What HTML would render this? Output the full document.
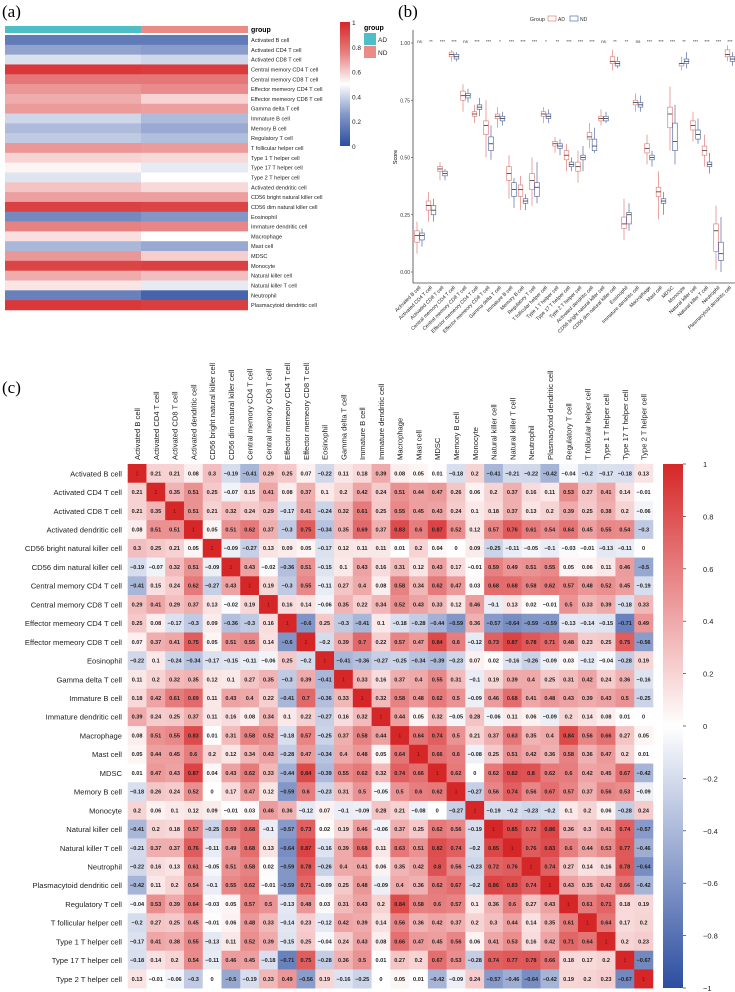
<!DOCTYPE html>
<html><head><meta charset="utf-8">
<style>
html,body{margin:0;padding:0;background:#fff;}
svg{display:block;font-family:"Liberation Sans",Arial,sans-serif;}
</style></head>
<body>
<svg id="fig" width="735" height="992" viewBox="0 0 735 992" xmlns="http://www.w3.org/2000/svg">
<text x="2" y="17" font-family="Liberation Serif,serif" font-size="17">(a)</text>
<text x="398" y="17" font-family="Liberation Serif,serif" font-size="17">(b)</text>
<text x="2" y="393" font-family="Liberation Serif,serif" font-size="17">(c)</text>
<g id="pa"></g>
<g id="pb"></g>
<g id="pc"></g>
</svg>
<script>
const cellsB = ["Activated B cell","Activated CD4 T cell","Activated CD8 T cell","Central memory CD4 T cell","Central memory CD8 T cell","Effector memeory CD4 T cell","Effector memeory CD8 T cell","Gamma delta T cell","Immature  B cell","Memory B cell","Regulatory T cell","T follicular helper cell","Type 1 T helper cell","Type 17 T helper cell","Type 2 T helper cell","Activated dendritic cell","CD56 bright natural killer cell","CD56 dim natural killer cell","Eosinophil","Immature dendritic cell","Macrophage","Mast cell","MDSC","Monocyte","Natural killer cell","Natural killer T cell","Neutrophil","Plasmacytoid dendritic cell"];
const adMed = [0.16,0.29,0.45,0.95,0.77,0.69,0.64,0.68,0.43,0.36,0.40,0.69,0.56,0.51,0.46,0.59,0.67,0.92,0.21,0.74,0.54,0.35,0.69,0.91,0.64,0.53,0.18,0.95];
const ndMed = [0.16,0.27,0.43,0.94,0.77,0.72,0.56,0.67,0.36,0.31,0.37,0.68,0.55,0.47,0.50,0.55,0.67,0.91,0.25,0.73,0.50,0.31,0.57,0.92,0.60,0.47,0.08,0.93];
const adQ1 = [0.13,0.27,0.44,0.94,0.75,0.68,0.60,0.67,0.40,0.33,0.36,0.68,0.55,0.49,0.44,0.58,0.66,0.91,0.19,0.73,0.52,0.33,0.63,0.90,0.62,0.51,0.09,0.94];
const adQ3 = [0.18,0.31,0.46,0.96,0.79,0.70,0.66,0.69,0.46,0.38,0.43,0.70,0.57,0.53,0.48,0.61,0.68,0.94,0.24,0.75,0.56,0.37,0.72,0.91,0.66,0.55,0.21,0.97];
const ndQ1 = [0.14,0.25,0.42,0.93,0.76,0.71,0.53,0.66,0.33,0.30,0.33,0.67,0.54,0.46,0.49,0.53,0.66,0.90,0.21,0.72,0.49,0.30,0.53,0.91,0.58,0.46,0.05,0.92];
const ndQ3 = [0.17,0.29,0.44,0.95,0.78,0.73,0.59,0.68,0.39,0.32,0.39,0.69,0.56,0.48,0.51,0.58,0.68,0.92,0.26,0.74,0.51,0.32,0.65,0.93,0.62,0.48,0.13,0.94];
const adLo = [0.08,0.22,0.40,0.92,0.70,0.65,0.50,0.63,0.32,0.27,0.29,0.65,0.52,0.44,0.39,0.54,0.64,0.88,0.14,0.70,0.47,0.23,0.53,0.88,0.57,0.46,0.01,0.92];
const adHi = [0.22,0.35,0.48,0.97,0.82,0.73,0.75,0.72,0.51,0.42,0.50,0.72,0.59,0.56,0.53,0.65,0.71,0.97,0.32,0.78,0.60,0.44,0.81,0.94,0.70,0.60,0.29,0.99];
const ndLo = [0.11,0.22,0.40,0.92,0.74,0.68,0.49,0.64,0.28,0.27,0.30,0.65,0.51,0.44,0.44,0.52,0.65,0.89,0.18,0.70,0.46,0.25,0.47,0.89,0.56,0.43,0.00,0.90];
const ndHi = [0.19,0.32,0.45,0.96,0.80,0.76,0.64,0.70,0.41,0.34,0.48,0.71,0.58,0.50,0.55,0.63,0.70,0.94,0.30,0.77,0.53,0.35,0.73,0.96,0.67,0.52,0.24,0.96];
const sigLabels = ["ns","**","***","***","ns","***","***","*","***","***","***","*","**","***","***","***","ns","**","**","ns","***","***","***","**","***","***","***","***"];
const scoreTicks = [0,0.25,0.5,0.75,1];
const heatTicks = [0,0.2,0.4,0.6,0.8,1];
const cellsC = ["Activated B cell","Activated CD4 T cell","Activated CD8 T cell","Activated dendritic cell","CD56 bright natural killer cell","CD56 dim natural killer cell","Central memory CD4 T cell","Central memory CD8 T cell","Effector memeory CD4 T cell","Effector memeory CD8 T cell","Eosinophil","Gamma delta T cell","Immature  B cell","Immature dendritic cell","Macrophage","Mast cell","MDSC","Memory B cell","Monocyte","Natural killer cell","Natural killer T cell","Neutrophil","Plasmacytoid dendritic cell","Regulatory T cell","T follicular helper cell","Type 1 T helper cell","Type 17 T helper cell","Type 2 T helper cell"];
const corr = [
[1,0.21,0.21,0.08,0.3,-0.19,-0.41,0.29,0.25,0.07,-0.22,0.11,0.18,0.39,0.08,0.05,0.01,-0.18,0.2,-0.41,-0.21,-0.22,-0.42,-0.04,-0.2,-0.17,-0.18,0.13],
[0.21,1,0.35,0.51,0.25,-0.07,0.15,0.41,0.08,0.37,0.1,0.2,0.42,0.24,0.51,0.44,0.47,0.26,0.06,0.2,0.37,0.16,0.11,0.53,0.27,0.41,0.14,-0.01],
[0.21,0.35,1,0.51,0.21,0.32,0.24,0.29,-0.17,0.41,-0.24,0.32,0.61,0.25,0.55,0.45,0.43,0.24,0.1,0.18,0.37,0.13,0.2,0.39,0.25,0.38,0.2,-0.06],
[0.08,0.51,0.51,1,0.05,0.51,0.62,0.37,-0.3,0.75,-0.34,0.35,0.69,0.37,0.83,0.6,0.87,0.52,0.12,0.57,0.76,0.61,0.54,0.64,0.45,0.55,0.54,-0.3],
[0.3,0.25,0.21,0.05,1,-0.09,-0.27,0.13,0.09,0.05,-0.17,0.12,0.11,0.11,0.01,0.2,0.04,0,0.09,-0.25,-0.11,-0.05,-0.1,-0.03,-0.01,-0.13,-0.11,0],
[-0.19,-0.07,0.32,0.51,-0.09,1,0.43,-0.02,-0.36,0.51,-0.15,0.1,0.43,0.16,0.31,0.12,0.43,0.17,-0.01,0.59,0.49,0.51,0.55,0.05,0.06,0.11,0.46,-0.5],
[-0.41,0.15,0.24,0.62,-0.27,0.43,1,0.19,-0.3,0.55,-0.11,0.27,0.4,0.08,0.58,0.34,0.62,0.47,0.03,0.68,0.68,0.58,0.62,0.57,0.48,0.52,0.45,-0.19],
[0.29,0.41,0.29,0.37,0.13,-0.02,0.19,1,0.16,0.14,-0.06,0.35,0.22,0.34,0.52,0.43,0.33,0.12,0.46,-0.1,0.13,0.02,-0.01,0.5,0.33,0.39,-0.18,0.33],
[0.25,0.08,-0.17,-0.3,0.09,-0.36,-0.3,0.16,1,-0.6,0.25,-0.3,-0.41,0.1,-0.18,-0.28,-0.44,-0.59,0.36,-0.57,-0.64,-0.59,-0.59,-0.13,-0.14,-0.15,-0.71,0.49],
[0.07,0.37,0.41,0.75,0.05,0.51,0.55,0.14,-0.6,1,-0.2,0.39,0.7,0.22,0.57,0.47,0.84,0.6,-0.12,0.73,0.87,0.78,0.71,0.48,0.23,0.25,0.75,-0.56],
[-0.22,0.1,-0.24,-0.34,-0.17,-0.15,-0.11,-0.06,0.25,-0.2,1,-0.41,-0.36,-0.27,-0.25,-0.34,-0.39,-0.23,0.07,0.02,-0.16,-0.26,-0.09,0.03,-0.12,-0.04,-0.28,0.19],
[0.11,0.2,0.32,0.35,0.12,0.1,0.27,0.35,-0.3,0.39,-0.41,1,0.33,0.16,0.37,0.4,0.55,0.31,-0.1,0.19,0.39,0.4,0.25,0.31,0.42,0.24,0.36,-0.16],
[0.18,0.42,0.61,0.69,0.11,0.43,0.4,0.22,-0.41,0.7,-0.36,0.33,1,0.32,0.58,0.48,0.62,0.5,-0.09,0.46,0.68,0.41,0.48,0.43,0.39,0.43,0.5,-0.25],
[0.39,0.24,0.25,0.37,0.11,0.16,0.08,0.34,0.1,0.22,-0.27,0.16,0.32,1,0.44,0.05,0.32,-0.05,0.28,-0.06,0.11,0.06,-0.09,0.2,0.14,0.08,0.01,0],
[0.08,0.51,0.55,0.83,0.01,0.31,0.58,0.52,-0.18,0.57,-0.25,0.37,0.58,0.44,1,0.64,0.74,0.5,0.21,0.37,0.63,0.35,0.4,0.84,0.56,0.66,0.27,0.05],
[0.05,0.44,0.45,0.6,0.2,0.12,0.34,0.43,-0.28,0.47,-0.34,0.4,0.48,0.05,0.64,1,0.66,0.6,-0.08,0.25,0.51,0.42,0.36,0.58,0.36,0.47,0.2,0.01],
[0.01,0.47,0.43,0.87,0.04,0.43,0.62,0.33,-0.44,0.84,-0.39,0.55,0.62,0.32,0.74,0.66,1,0.62,0,0.62,0.82,0.8,0.62,0.6,0.42,0.45,0.67,-0.42],
[-0.18,0.26,0.24,0.52,0,0.17,0.47,0.12,-0.59,0.6,-0.23,0.31,0.5,-0.05,0.5,0.6,0.62,1,-0.27,0.56,0.74,0.56,0.67,0.57,0.37,0.56,0.53,-0.09],
[0.2,0.06,0.1,0.12,0.09,-0.01,0.03,0.46,0.36,-0.12,0.07,-0.1,-0.09,0.28,0.21,-0.08,0,-0.27,1,-0.19,-0.2,-0.23,-0.2,0.1,0.2,0.06,-0.28,0.24],
[-0.41,0.2,0.18,0.57,-0.25,0.59,0.68,-0.1,-0.57,0.73,0.02,0.19,0.46,-0.06,0.37,0.25,0.62,0.56,-0.19,1,0.85,0.72,0.86,0.36,0.3,0.41,0.74,-0.57],
[-0.21,0.37,0.37,0.76,-0.11,0.49,0.68,0.13,-0.64,0.87,-0.16,0.39,0.68,0.11,0.63,0.51,0.82,0.74,-0.2,0.85,1,0.76,0.83,0.6,0.44,0.53,0.77,-0.46],
[-0.22,0.16,0.13,0.61,-0.05,0.51,0.58,0.02,-0.59,0.78,-0.26,0.4,0.41,0.06,0.35,0.42,0.8,0.56,-0.23,0.72,0.76,1,0.74,0.27,0.14,0.16,0.78,-0.64],
[-0.42,0.11,0.2,0.54,-0.1,0.55,0.62,-0.01,-0.59,0.71,-0.09,0.25,0.48,-0.09,0.4,0.36,0.62,0.67,-0.2,0.86,0.83,0.74,1,0.43,0.35,0.42,0.66,-0.42],
[-0.04,0.53,0.39,0.64,-0.03,0.05,0.57,0.5,-0.13,0.48,0.03,0.31,0.43,0.2,0.84,0.58,0.6,0.57,0.1,0.36,0.6,0.27,0.43,1,0.61,0.71,0.18,0.19],
[-0.2,0.27,0.25,0.45,-0.01,0.06,0.48,0.33,-0.14,0.23,-0.12,0.42,0.39,0.14,0.56,0.36,0.42,0.37,0.2,0.3,0.44,0.14,0.35,0.61,1,0.64,0.17,0.2],
[-0.17,0.41,0.38,0.55,-0.13,0.11,0.52,0.39,-0.15,0.25,-0.04,0.24,0.43,0.08,0.66,0.47,0.45,0.56,0.06,0.41,0.53,0.16,0.42,0.71,0.64,1,0.2,0.23],
[-0.18,0.14,0.2,0.54,-0.11,0.46,0.45,-0.18,-0.71,0.75,-0.28,0.36,0.5,0.01,0.27,0.2,0.67,0.53,-0.28,0.74,0.77,0.78,0.66,0.18,0.17,0.2,1,-0.67],
[0.13,-0.01,-0.06,-0.3,0,-0.5,-0.19,0.33,0.49,-0.56,0.19,-0.16,-0.25,0,0.05,0.01,-0.42,-0.09,0.24,-0.57,-0.46,-0.64,-0.42,0.19,0.2,0.23,-0.67,1]];
const corrTicks = [1,0.8,0.6,0.4,0.2,0,-0.2,-0.4,-0.6,-0.8,-1];

const NS="http://www.w3.org/2000/svg";
function mk(parent,tag,attrs,txt){const e=document.createElementNS(NS,tag);for(const k in attrs)e.setAttribute(k,attrs[k]);if(txt!==undefined)e.textContent=txt;parent.appendChild(e);return e;}
const BLUE=[44,78,160],RED=[214,39,40],WH=[255,255,255];
function mix(a,b,t){return `rgb(${Math.round(a[0]+(b[0]-a[0])*t)},${Math.round(a[1]+(b[1]-a[1])*t)},${Math.round(a[2]+(b[2]-a[2])*t)})`;}
function divColor(v){return v>=0?mix(WH,RED,Math.min(1,v)):mix(WH,BLUE,Math.min(1,-v));}

/* ---------- Panel A ---------- */
const pa=document.getElementById('pa');
const aX0=5,aX1=248,aSplit=141,aY0=35,aRow=9.82;
let e;
e=mk(pa,'rect',{x:aX0,y:26,width:aSplit-aX0,height:7,fill:'#4fbfc7'});


e=mk(pa,'rect',{x:aSplit,y:26,width:aX1-aSplit,height:7,fill:'#ec8a86'});


e=mk(pa,'text',{x:251,y:32,'font-size':7,'font-weight':'bold'},'group');


function aScale(v){const d=(v-0.5)*2;const s=Math.sign(d)*Math.pow(Math.abs(d),0.75);return divColor(s);}
cellsB.forEach((c,i)=>{
  const y=aY0+i*aRow;
  e=mk(pa,'rect',{x:aX0,y:y,width:aSplit-aX0,height:aRow+0.3,fill:aScale(adMed[i])});
  
  
  e=mk(pa,'rect',{x:aSplit,y:y,width:aX1-aSplit,height:aRow+0.3,fill:aScale(ndMed[i])});
  
  
  e=mk(pa,'text',{x:251,y:y+7,'font-size':5.6,fill:'#222'},c);
  
  
});
const cbA0=22,cbA1=146;
const grA=mk(pa,'defs',{});
const lg=mk(grA,'linearGradient',{id:'ga',x1:0,y1:1,x2:0,y2:0});
[0,0.25,0.5,0.75,1].forEach(s=>mk(lg,'stop',{offset:s,'stop-color':aScale(s)}));
e=mk(pa,'rect',{x:340,y:cbA0,width:10,height:cbA1-cbA0,fill:'url(#ga)'});


heatTicks.forEach(t=>{
  const y=cbA1-(cbA1-cbA0)*t;
  e=mk(pa,'text',{x:352,y:y+3,'font-size':6.5,fill:'#222'},String(t));
  
  
});
e=mk(pa,'text',{x:364,y:30,'font-size':7,'font-weight':'bold'},'group');


e=mk(pa,'rect',{x:364,y:33,width:12,height:12,fill:'#4fbfc7'});


e=mk(pa,'text',{x:378,y:42,'font-size':6.5,fill:'#222'},'AD');


e=mk(pa,'rect',{x:364,y:46,width:12,height:12,fill:'#ec8a86'});


e=mk(pa,'text',{x:378,y:55,'font-size':6.5,fill:'#222'},'ND');



/* ---------- Panel B ---------- */
const pb=document.getElementById('pb');
function yB(v){return 272-v*229;}
function xB(i){return 417+i*11.5;}
e=mk(pb,'line',{x1:413,y1:30,x2:413,y2:283,stroke:'#444','stroke-width':0.8});


e=mk(pb,'line',{x1:413,y1:283,x2:735,y2:283,stroke:'#444','stroke-width':0.8});


scoreTicks.forEach(t=>{
  e=mk(pb,'text',{x:410,y:yB(t)+2,'font-size':5,'text-anchor':'end',fill:'#333'},t.toFixed(2));
  
  
  mk(pb,'line',{x1:411,y1:yB(t),x2:413,y2:yB(t),stroke:'#444','stroke-width':0.6});
});
e=mk(pb,'text',{x:0,y:0,'font-size':5.5,'text-anchor':'middle',transform:'translate(397,157) rotate(-90)'},'Score');


e=mk(pb,'text',{x:545,y:21,'font-size':5.5,fill:'#333','text-anchor':'end'},'Group');


e=mk(pb,'rect',{x:548,y:16,width:8,height:5,fill:'none',stroke:'#e0807a','stroke-width':0.7});


e=mk(pb,'text',{x:558,y:21,'font-size':5,fill:'#333'},'AD');


e=mk(pb,'rect',{x:570,y:16,width:8,height:5,fill:'none',stroke:'#5a6fa8','stroke-width':0.7});


e=mk(pb,'text',{x:580,y:21,'font-size':5,fill:'#333'},'ND');


function box(cx,q1,med,q3,lo,hi,col,name){
  const g=mk(pb,'g',{});
  
  
  mk(g,'line',{x1:cx,y1:yB(hi),x2:cx,y2:yB(q3),stroke:col,'stroke-width':0.7});
  mk(g,'line',{x1:cx,y1:yB(q1),x2:cx,y2:yB(lo),stroke:col,'stroke-width':0.7});
  mk(g,'rect',{x:cx-2.3,y:yB(q3),width:4.6,height:Math.max(0.8,yB(q1)-yB(q3)),fill:'#fff',stroke:col,'stroke-width':0.7});
  mk(g,'line',{x1:cx-2.3,y1:yB(med),x2:cx+2.3,y2:yB(med),stroke:'#333','stroke-width':0.8});
}
cellsB.forEach((c,i)=>{
  box(xB(i),adQ1[i],adMed[i],adQ3[i],adLo[i],adHi[i],'#e0807a','box-ad');
  box(xB(i)+5,ndQ1[i],ndMed[i],ndQ3[i],ndLo[i],ndHi[i],'#5a6fa8','box-nd');
  e=mk(pb,'text',{x:xB(i)+2.5,y:43,'font-size':4.5,'text-anchor':'middle',fill:'#333'},sigLabels[i]);
  
  
  e=mk(pb,'text',{x:0,y:0,'font-size':5,'text-anchor':'end',fill:'#222',transform:`translate(${xB(i)+4},288) rotate(-45)`},c);
  
  
});

/* ---------- Panel C ---------- */
const pc=document.getElementById('pc');
const cX0=127.7,cY0=464,cW=18.76,cH=18.72;
cellsC.forEach((c,i)=>{
  e=mk(pc,'text',{x:122,y:cY0+i*cH+cH/2+3,'font-size':7.6,'text-anchor':'end',fill:'#222'},c);
  
  
  e=mk(pc,'text',{x:0,y:0,'font-size':7.6,'text-anchor':'start',fill:'#222',transform:`translate(${cX0+i*cW+cW/2+3},460) rotate(-90)`},c);
  
  
});
corr.forEach((row,r)=>{
  row.forEach((v,c)=>{
    const x=cX0+c*cW,y=cY0+r*cH;
    e=mk(pc,'rect',{x:x,y:y,width:cW+0.3,height:cH+0.3,fill:divColor(v)});
    
    
    const s=v===0?'0':(v===1?'1':String(v).replace('-','\u2212'));
    e=mk(pc,'text',{x:x+cW/2,y:y+cH/2+2,'font-size':5.6,'font-weight':'bold','text-anchor':'middle',fill:v===1?'#a01010':'#222'},s);
    
    
  });
});
const cbTop=464,cbBot=988;
const lg2=mk(pc,'defs',{});
const g2=mk(lg2,'linearGradient',{id:'gc',x1:0,y1:0,x2:0,y2:1});
[1,0.5,0,-0.5,-1].forEach((v,k)=>mk(g2,'stop',{offset:k/4,'stop-color':divColor(v)}));
e=mk(pc,'rect',{x:663,y:cbTop,width:20,height:cbBot-cbTop,fill:'url(#gc)'});


corrTicks.forEach(t=>{
  const y=cbTop+(1-t)/2*(cbBot-cbTop);
  mk(pc,'line',{x1:683,y1:y,x2:686,y2:y,stroke:'#333','stroke-width':0.7});
  e=mk(pc,'text',{x:703,y:y+3,'font-size':7.5,fill:'#222'},String(t).replace('-','\u2212'));
  
  
});
</script>
</body></html>
